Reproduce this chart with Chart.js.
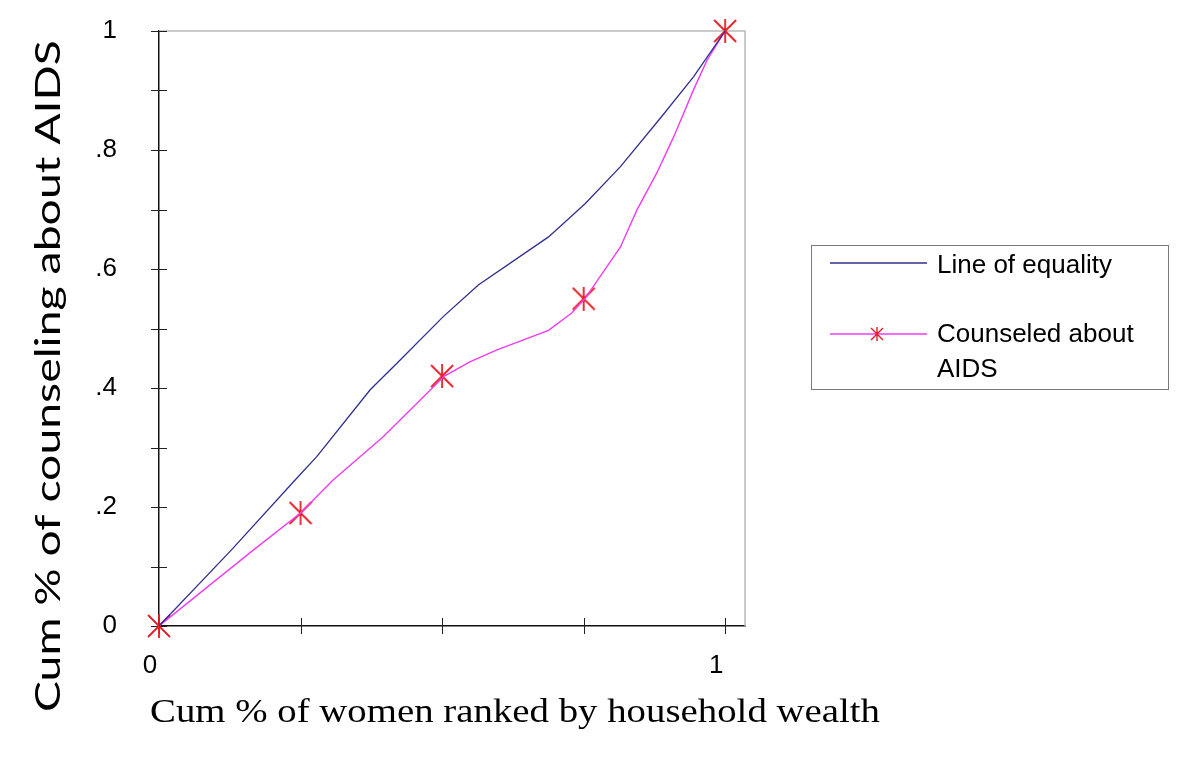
<!DOCTYPE html>
<html>
<head>
<meta charset="utf-8">
<title>Concentration curve - counseling about AIDS</title>
<script src="https://cdn.jsdelivr.net/npm/chart.js@4.4.0/dist/chart.umd.min.js"></script>
<style>
  html, body { margin: 0; padding: 0; background: #fff; }
  #wrap { width: 1200px; height: 773px; }
</style>
</head>
<body>
<div id="wrap"><canvas id="chart" width="1200" height="773"></canvas></div>
<script>
/* =====================
  Data
===================== */

// "Line of equality" as it is drawn in the figure
var equalityX = [0, 0.128, 0.240, 0.279, 0.373, 0.426, 0.502, 0.564, 0.688, 0.753, 0.815, 0.885, 0.944, 1];
var equalityY = [0, 0.128, 0.245, 0.285, 0.397, 0.447, 0.520, 0.573, 0.654, 0.710, 0.772, 0.853, 0.923, 1];

// "Counseled about AIDS" curve
var counselX = [0, 0.167, 0.249, 0.307, 0.396, 0.504, 0.549, 0.597, 0.688, 0.729, 0.753, 0.815, 0.844, 0.879, 0.909, 0.944, 0.968, 1];
var counselY = [0, 0.128, 0.189, 0.245, 0.318, 0.420, 0.444, 0.464, 0.497, 0.526, 0.551, 0.637, 0.699, 0.761, 0.822, 0.901, 0.951, 1];

// quintile markers (stars)
var markerX = [0, 0.25, 0.5, 0.75, 1];
var markerY = [0, 0.19, 0.42, 0.55, 1];

// ticks
var xTicks = [0, 0.25, 0.5, 0.75, 1];
var xTickLabels = ['0', '', '', '', '1'];
var yTicks = [0, 0.1, 0.2, 0.3, 0.4, 0.5, 0.6, 0.7, 0.8, 0.9, 1];
var yTickLabels = ['0', '', '.2', '', '.4', '', '.6', '', '.8', '', '1'];

var xTitle = 'Cum % of women ranked by household wealth';
var yTitle = 'Cum % of counseling about AIDS';
var legendLabels = ['Line of equality', ['Counseled about', 'AIDS']];

var blue = '#2f2f8e';
var pink = '#f03cf0';
var red = '#e51c24';

function toPoints(xs, ys) {
  return xs.map(function (x, i) { return { x: x, y: ys[i] }; });
}

// asterisk marker: an X with a vertical stroke
function makeStar(w, h, lw) {
  var c = document.createElement('canvas');
  c.width = w; c.height = h;
  var g = c.getContext('2d');
  g.strokeStyle = red;
  g.lineWidth = lw;
  g.beginPath();
  g.moveTo(1, 1); g.lineTo(w - 1, h - 1);
  g.moveTo(w - 1, 1); g.lineTo(1, h - 1);
  g.moveTo(w / 2, 0); g.lineTo(w / 2, h);
  g.stroke();
  return c;
}
var star = makeStar(24, 24, 1.8);
var smallStar = makeStar(14, 14, 1.4);

/* =====================
  Plugins: frame, crossing ticks, titles, legend
===================== */
var frame = {
  id: 'frame',
  beforeDatasetsDraw: function (chart) {
    var ctx = chart.ctx, a = chart.chartArea;
    var xs = chart.scales.x, ys = chart.scales.y;
    ctx.save();
    ctx.strokeStyle = '#b9b9b9';
    ctx.lineWidth = 1.5;
    ctx.beginPath();
    ctx.moveTo(a.left, a.top);
    ctx.lineTo(a.right, a.top);
    ctx.lineTo(a.right, a.bottom);
    ctx.stroke();

    ctx.strokeStyle = '#222';
    ctx.lineWidth = 1;
    ctx.beginPath();
    xs.ticks.forEach(function (t) {
      var px = Math.round(xs.getPixelForValue(t.value)) + 0.5;
      ctx.moveTo(px, a.bottom - 8);
      ctx.lineTo(px, a.bottom + 8);
    });
    ys.ticks.forEach(function (t) {
      var py = Math.round(ys.getPixelForValue(t.value)) + 0.5;
      ctx.moveTo(a.left - 8, py);
      ctx.lineTo(a.left + 8, py);
    });
    ctx.stroke();
    ctx.restore();
  }
};

var titlesAndLegend = {
  id: 'titlesAndLegend',
  afterDraw: function (chart) {
    var ctx = chart.ctx;
    ctx.save();
    ctx.fillStyle = '#000';
    ctx.textBaseline = 'alphabetic';
    ctx.textAlign = 'left';

    // x title (serif), stretched to the width it has in the figure
    ctx.font = '34px "Liberation Serif"';
    var wx = ctx.measureText(xTitle).width;
    ctx.save();
    ctx.translate(150, 722);
    ctx.scale(730 / wx, 1);
    ctx.fillText(xTitle, 0, 0);
    ctx.restore();

    // y title, rotated
    ctx.font = '35px Lato, "Open Sans", sans-serif';
    var wy = ctx.measureText(yTitle).width;
    ctx.save();
    ctx.translate(60, 712);
    ctx.rotate(-Math.PI / 2);
    ctx.scale(672 / wy, 1);
    ctx.fillText(yTitle, 0, 0);
    ctx.restore();

    // legend box
    ctx.strokeStyle = '#7a7a7a';
    ctx.lineWidth = 1;
    ctx.strokeRect(811.5, 245.5, 357, 144);

    ctx.lineWidth = 1.3;
    ctx.strokeStyle = blue;
    ctx.beginPath();
    ctx.moveTo(830, 263); ctx.lineTo(927, 263);
    ctx.stroke();

    ctx.strokeStyle = pink;
    ctx.beginPath();
    ctx.moveTo(830, 334); ctx.lineTo(927, 334);
    ctx.stroke();
    ctx.drawImage(smallStar, 877 - 7, 334 - 7);

    ctx.font = '26px "Liberation Sans"';
    ctx.fillText(legendLabels[0], 937, 273);
    ctx.fillText(legendLabels[1][0], 937, 342);
    ctx.fillText(legendLabels[1][1], 937, 377);
    ctx.restore();
  }
};

/* =====================
  Chart
===================== */
var tickFont = { family: '"Liberation Sans", Arial, sans-serif', size: 26 };

function drawChart() {
  return new Chart(document.getElementById('chart'), {
    type: 'line',
    data: {
      datasets: [
        {
          label: 'Line of equality',
          data: toPoints(equalityX, equalityY),
          borderColor: blue,
          borderWidth: 1.3,
          pointRadius: 0,
          tension: 0,
          fill: false
        },
        {
          label: 'Counseled about AIDS',
          data: toPoints(counselX, counselY),
          borderColor: pink,
          borderWidth: 1.4,
          pointRadius: 0,
          tension: 0,
          fill: false
        },
        {
          label: 'markers',
          data: toPoints(markerX, markerY),
          showLine: false,
          pointStyle: star,
          pointRadius: 12,
          clip: false
        }
      ]
    },
    options: {
      responsive: false,
      animation: false,
      layout: { padding: { top: 31, right: 455, left: 0, bottom: 0 } },
      plugins: {
        legend: { display: false },
        tooltip: { enabled: false },
        title: { display: false }
      },
      scales: {
        x: {
          type: 'linear',
          min: 0,
          max: 1.035,
          afterBuildTicks: function (scale) {
            scale.ticks = xTicks.map(function (v) { return { value: v }; });
          },
          afterFit: function (scale) { scale.height = 147; },
          grid: { display: false, drawTicks: false, tickLength: 0 },
          border: { display: true, color: '#111', width: 1.5 },
          ticks: {
            autoSkip: false,
            maxRotation: 0,
            padding: 24,
            labelOffset: -9,
            color: '#000',
            font: tickFont,
            callback: function (v, i) { return xTickLabels[i]; }
          }
        },
        y: {
          type: 'linear',
          min: 0,
          max: 1,
          afterBuildTicks: function (scale) {
            scale.ticks = yTicks.map(function (v) { return { value: v }; });
          },
          afterFit: function (scale) { scale.width = 159; },
          // invisible tick marks only push the labels away from the axis
          grid: {
            display: true,
            drawOnChartArea: false,
            drawTicks: true,
            tickLength: 34,
            tickColor: 'rgba(0,0,0,0)'
          },
          border: { display: true, color: '#111', width: 1.5 },
          ticks: {
            autoSkip: false,
            padding: 8,
            color: '#000',
            font: tickFont,
            callback: function (v, i) { return yTickLabels[i]; }
          }
        }
      }
    },
    plugins: [frame, titlesAndLegend]
  });
}

var fontsWanted = ['35px Lato', '34px "Liberation Serif"', '26px "Liberation Sans"'];
if (document.fonts && document.fonts.load) {
  Promise.all(fontsWanted.map(function (f) { return document.fonts.load(f); }))
    .then(drawChart, drawChart);
} else {
  drawChart();
}
</script>
</body>
</html>
